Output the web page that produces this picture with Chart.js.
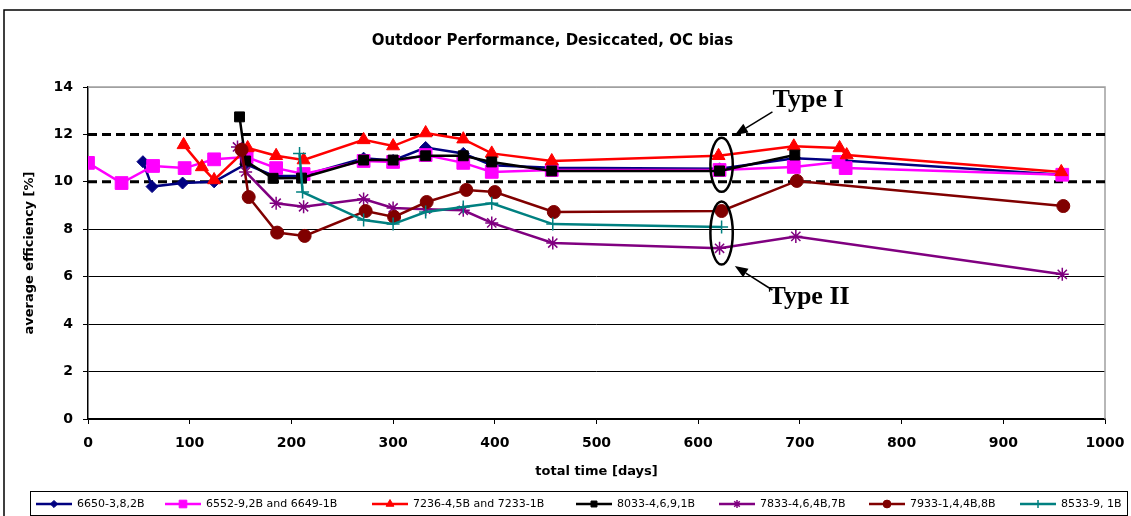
<!DOCTYPE html>
<html lang="en">
<head>
<meta charset="UTF-8">
<title>Outdoor Performance, Desiccated, OC bias</title>
<script src="https://cdn.jsdelivr.net/npm/chart.js"></script>
<style>
  html, body { margin: 0; padding: 0; background: #fff; }
</style>
</head>
<body>
<canvas id="chart" width="1131" height="516"></canvas>
<script>
// values: days on test and average efficiency [%]
const days6650 = [54, 63, 93, 124, 155, 183, 210, 271, 300, 332, 369, 397, 456, 621, 695, 742, 958];
const eff6650  = [10.85, 9.8, 9.95, 10.0, 10.75, 10.25, 10.25, 11.0, 10.9, 11.45, 11.2, 10.7, 10.6, 10.55, 11.0, 10.9, 10.3];

const days6552 = [0, 33, 64, 95, 124, 156, 185, 212, 271, 300, 332, 369, 397, 456, 621, 694, 738, 745, 958];
const eff6552  = [10.8, 9.95, 10.67, 10.58, 10.95, 11.05, 10.58, 10.33, 10.88, 10.84, 11.13, 10.8, 10.42, 10.5, 10.5, 10.63, 10.84, 10.58, 10.3];

const days7236 = [94, 112, 124, 157, 185, 212, 271, 300, 332, 369, 397, 456, 620, 694, 739, 746, 957];
const eff7236  = [11.56, 10.63, 10.08, 11.43, 11.1, 10.92, 11.77, 11.51, 12.06, 11.8, 11.2, 10.88, 11.1, 11.5, 11.43, 11.13, 10.42];

const days8033 = [149, 155, 182, 210, 271, 300, 332, 369, 397, 456, 621, 695];
const eff8033  = [12.74, 10.88, 10.15, 10.16, 10.92, 10.92, 11.1, 11.1, 10.84, 10.46, 10.46, 11.13];

const days7833 = [147, 155, 185, 212, 271, 300, 332, 369, 397, 457, 621, 696, 958];
const eff7833  = [11.47, 10.42, 9.1, 8.95, 9.28, 8.9, 8.85, 8.8, 8.27, 7.42, 7.2, 7.7, 6.1];

const days7933 = [151, 158, 186, 213, 273, 301, 333, 372, 400, 458, 623, 697, 959];
const eff7933  = [11.35, 9.36, 7.86, 7.72, 8.77, 8.52, 9.15, 9.66, 9.57, 8.73, 8.77, 10.04, 8.98];

const days8533 = [208, 211, 271, 300, 332, 369, 397, 457, 623];
const eff8533  = [11.2, 9.57, 8.39, 8.22, 8.73, 8.94, 9.1, 8.22, 8.1];

const seriesLabels = ['6650-3,8,2B', '6552-9,2B and 6649-1B', '7236-4,5B and 7233-1B',
  '8033-4,6,9,1B', '7833-4,6,4B,7B', '7933-1,4,4B,8B', '8533-9, 1B'];

// dashed limits at 12 % and 10 %
const limitLevels = [12, 10];
const limitSpan = [0, 1000];

const xTicks = { min: 0, max: 1000, step: 100 };
const yTicks = { min: 0, max: 14, step: 2 };

function pts(days, eff) {
  return days.map((d, i) => ({ x: d, y: eff[i] }));
}

function series(i, days, eff, color, style, radius, bw) {
  return {
    label: seriesLabels[i],
    data: pts(days, eff),
    borderColor: color,
    backgroundColor: color,
    borderWidth: 2.5,
    pointStyle: style,
    pointRadius: radius,
    pointHoverRadius: radius,
    pointBackgroundColor: color,
    pointBorderColor: color,
    pointBorderWidth: bw || 1,
    tension: 0,
    order: 6 - i
  };
}

const datasets = [
  series(0, days6650, eff6650, '#000080', 'rectRot', 6),
  series(1, days6552, eff6552, '#ff00ff', 'rect', 9),
  series(2, days7236, eff7236, '#ff0000', 'triangle', 7.5),
  series(3, days8033, eff8033, '#000000', 'rect', 7),
  series(4, days7833, eff7833, '#800080', 'star', 6.5, 1.5),
  series(5, days7933, eff7933, '#800000', 'circle', 6.5),
  series(6, days8533, eff8533, '#008080', 'cross', 6.5, 1.5)
];

limitLevels.forEach(v => {
  datasets.push({
    label: 'limit ' + v,
    data: limitSpan.map(d => ({ x: d, y: v })),
    borderColor: '#000',
    borderWidth: 3,
    borderDash: [9, 5],
    pointRadius: 0,
    order: 20
  });
});

// frame, plot border, legend box
const framePlugin = {
  id: 'frame',
  beforeDatasetsDraw(chart) {
    const { ctx, chartArea: a } = chart;
    ctx.save();
    ctx.strokeStyle = '#a0a0a0';
    ctx.lineWidth = 1.5;
    ctx.beginPath();
    ctx.moveTo(a.left, a.top);
    ctx.lineTo(a.right, a.top);
    ctx.lineTo(a.right, a.bottom);
    ctx.stroke();
    ctx.restore();
  },
  afterDraw(chart) {
    const ctx = chart.ctx;
    ctx.save();
    ctx.strokeStyle = '#000';
    ctx.lineWidth = 1.5;
    ctx.beginPath();
    ctx.moveTo(4, 516);
    ctx.lineTo(4, 10);
    ctx.lineTo(1131, 10);
    ctx.stroke();

    ctx.lineWidth = 1;
    ctx.strokeRect(30.5, 491.5, 1097, 24);

    const starts = [36, 165, 372, 576, 719, 869, 1020];
    const y = 504;
    ctx.font = '11px "DejaVu Sans"';
    ctx.textBaseline = 'middle';
    ctx.textAlign = 'left';
    chart.data.datasets.slice(0, 7).forEach((ds, i) => {
      const x0 = starts[i];
      ctx.strokeStyle = ds.borderColor;
      ctx.lineWidth = 2.5;
      ctx.beginPath();
      ctx.moveTo(x0, y);
      ctx.lineTo(x0 + 36, y);
      ctx.stroke();
      ctx.fillStyle = ds.pointBackgroundColor;
      ctx.strokeStyle = ds.pointBorderColor;
      ctx.lineWidth = ds.pointBorderWidth;
      Chart.helpers.drawPoint(ctx, {
        pointStyle: ds.pointStyle, radius: ds.pointRadius * 0.6,
        rotation: 0, borderWidth: ds.pointBorderWidth
      }, x0 + 18, y);
      ctx.fillStyle = '#000';
      ctx.fillText(ds.label, x0 + 41, y);
    });
    ctx.restore();
  }
};

// "Type I" / "Type II" call-outs, in data coordinates
const notePlugin = {
  id: 'notes',
  afterDatasetsDraw(chart) {
    const { ctx, scales: { x, y } } = chart;
    const rings = [
      { d: 623, v: 10.72, rd: 11, rv: 1.14 },
      { d: 623, v: 7.84, rd: 11, rv: 1.33 }
    ];
    const arrows = [
      { from: [673, 12.95], to: [636, 11.98] },
      { from: [673, 5.44], to: [636, 6.45] }
    ];
    const notes = [
      { text: 'Type I', d: 708, v: 13.45 },
      { text: 'Type II', d: 709, v: 5.15 }
    ];
    ctx.save();
    ctx.strokeStyle = '#000';
    ctx.fillStyle = '#000';
    ctx.lineWidth = 2.5;
    rings.forEach(r => {
      const cx = x.getPixelForValue(r.d);
      const cy = y.getPixelForValue(r.v);
      const rx = x.getPixelForValue(r.d + r.rd) - cx;
      const ry = cy - y.getPixelForValue(r.v + r.rv);
      ctx.beginPath();
      ctx.ellipse(cx, cy, rx, ry, 0, 0, Math.PI * 2);
      ctx.stroke();
    });
    ctx.lineWidth = 1.5;
    arrows.forEach(a => {
      const x1 = x.getPixelForValue(a.from[0]), y1 = y.getPixelForValue(a.from[1]);
      const x2 = x.getPixelForValue(a.to[0]), y2 = y.getPixelForValue(a.to[1]);
      const ang = Math.atan2(y2 - y1, x2 - x1);
      const hl = 13, hw = 5;
      const bx = x2 - Math.cos(ang) * hl, by = y2 - Math.sin(ang) * hl;
      ctx.beginPath();
      ctx.moveTo(x1, y1);
      ctx.lineTo(bx, by);
      ctx.stroke();
      ctx.beginPath();
      ctx.moveTo(x2, y2);
      ctx.lineTo(bx + Math.sin(ang) * hw, by - Math.cos(ang) * hw);
      ctx.lineTo(bx - Math.sin(ang) * hw, by + Math.cos(ang) * hw);
      ctx.closePath();
      ctx.fill();
    });
    ctx.font = 'bold 26px "Liberation Serif"';
    ctx.textAlign = 'center';
    ctx.textBaseline = 'middle';
    notes.forEach(n => {
      ctx.fillText(n.text, x.getPixelForValue(n.d), y.getPixelForValue(n.v));
    });
    ctx.restore();
  }
};

Chart.defaults.color = '#000';
Chart.defaults.font.family = '"DejaVu Sans", sans-serif';

new Chart(document.getElementById('chart'), {
  type: 'line',
  data: { datasets },
  plugins: [framePlugin, notePlugin],
  options: {
    responsive: false,
    animation: false,
    layout: { padding: { left: 0, right: 26, top: 0, bottom: 0 } },
    plugins: {
      legend: { display: false },
      tooltip: { enabled: false },
      title: {
        display: true,
        text: 'Outdoor Performance, Desiccated, OC bias',
        font: { size: 15, weight: 'bold' },
        padding: { top: 32, bottom: 37 }
      }
    },
    scales: {
      x: {
        type: 'linear',
        min: xTicks.min,
        max: xTicks.max,
        afterFit: s => { s.height = 97; s.paddingLeft = 0; s.paddingRight = 0; },
        ticks: {
          stepSize: xTicks.step, padding: 11,
          font: { size: 14, weight: 'bold' },
          callback: v => String(v)
        },
        grid: { drawOnChartArea: false, drawTicks: true, tickLength: 5, color: '#000', lineWidth: 1 },
        border: { color: '#000', width: 1.5 },
        title: {
          display: true,
          text: 'total time [days]',
          font: { size: 13, weight: 'bold' },
          padding: { top: 0, bottom: 37 }
        }
      },
      y: {
        min: yTicks.min,
        max: yTicks.max,
        afterFit: s => { s.width = 88; s.paddingTop = 0; s.paddingBottom = 0; },
        ticks: { stepSize: yTicks.step, padding: 10, font: { size: 14, weight: 'bold' } },
        grid: {
          color: c => {
            const v = c.tick ? c.tick.value : null;
            if (v === yTicks.max) return '#a0a0a0';
            if (limitLevels.includes(v)) return 'rgba(0,0,0,0)';
            return '#000';
          },
          tickColor: '#000',
          lineWidth: 1,
          tickLength: 5
        },
        border: { color: '#000', width: 1.5 },
        title: {
          display: true,
          text: 'average efficiency [%]',
          font: { size: 13, weight: 'bold' },
          padding: { top: 22, bottom: 0 }
        }
      }
    }
  }
});
</script>
</body>
</html>
